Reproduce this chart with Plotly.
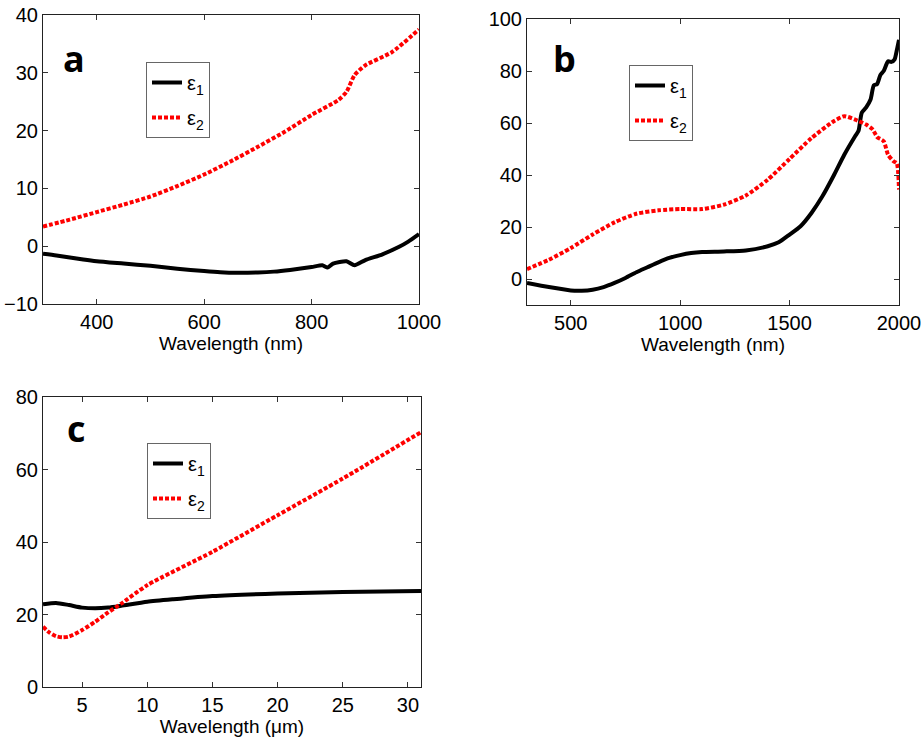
import plotly.graph_objects as go

# ---------- Panel a (nm) ----------
a_x_e1 = [300, 325, 350, 375, 400, 450, 500, 550, 600, 630, 660, 700, 730, 760, 800, 820, 830, 840, 865,
          880, 900, 932, 963, 980, 1000]
a_e1 = [-1.3, -1.6, -1.95, -2.3, -2.6, -3.0, -3.4, -3.9, -4.3, -4.5, -4.6, -4.55, -4.4, -4.1, -3.6, -3.3,
        -3.7, -3.0, -2.6, -3.3, -2.4, -1.4, -0.1, 0.8, 2.1]
a_x_e2 = [300, 350, 400, 450, 500, 550, 600, 650, 700, 750, 800, 850, 865, 880, 900, 950, 1000]
a_e2 = [3.4, 4.6, 5.9, 7.2, 8.6, 10.4, 12.4, 14.7, 17.2, 19.8, 22.7, 25.3, 26.7, 29.6, 31.3, 33.6, 37.5]

# ---------- Panel b (nm) ----------
b_x_e1 = [300, 400, 500, 550, 600, 650, 700, 750, 800, 850, 900, 950, 1000, 1050, 1100, 1200, 1300, 1400,
          1450, 1500, 1550, 1600, 1650, 1700, 1750, 1800, 1815, 1830, 1850, 1870, 1885, 1900, 1915, 1930,
          1950, 1965, 1980, 1990, 2000]
b_e1 = [-1.5, -3.1, -4.4, -4.5, -4.1, -3.1, -1.5, 0.4, 2.6, 4.5, 6.4, 8.1, 9.2, 10.0, 10.4, 10.6, 11.0, 12.6,
        14.1, 17.1, 20.3, 25.4, 31.8, 39.5, 47.8, 55.0, 57.0, 64.0, 66.0, 69.0, 74.5, 75.0, 78.5, 80.0,
        83.7, 83.5, 84.5, 88.0, 92.0]
b_x_e2 = [300, 400, 500, 600, 700, 800, 900, 1000, 1100, 1200, 1300, 1400, 1500, 1600, 1700, 1750, 1800,
          1850, 1880, 1900, 1930, 1950, 1975, 1990, 2000]
b_e2 = [3.8, 7.4, 11.9, 17.1, 21.8, 25.1, 26.4, 26.9, 26.9, 28.6, 32.1, 38.2, 46.2, 54.2, 60.6, 62.6, 61.3,
        59.4, 57.5, 54.6, 53.0, 47.8, 45.3, 44.5, 34.4]

# ---------- Panel c (um) ----------
c_x_e1 = [2, 3, 4, 5, 6, 7, 8, 10, 12, 15, 20, 25, 31]
c_e1 = [22.8, 23.2, 22.6, 21.9, 21.7, 21.9, 22.4, 23.5, 24.2, 25.1, 25.8, 26.2, 26.5]
c_x_e2 = [2, 2.5, 3, 3.5, 4, 5, 6, 7, 8, 10, 15, 20, 25, 31]
c_e2 = [16.6, 15.0, 14.0, 13.7, 13.9, 15.7, 18.0, 20.6, 23.0, 28.1, 37.3, 47.4, 57.5, 70.3]

# tick labels
a_xticks = [400, 600, 800, 1000]
a_yticks = [-10, 0, 10, 20, 30, 40]
b_xticks = [500, 1000, 1500, 2000]
b_yticks = [0, 20, 40, 60, 80, 100]
c_xticks = [5, 10, 15, 20, 25, 30]
c_yticks = [0, 20, 40, 60, 80]

E1 = "ε<sub>1</sub>"
E2 = "ε<sub>2</sub>"
FONT = "Liberation Sans, Arial, sans-serif"
BLACK = "#000000"
RED = "#ff0000"

fig = go.Figure()

panels = [
    ("x", "y", "legend", a_x_e1, a_e1, a_x_e2, a_e2),
    ("x2", "y2", "legend2", b_x_e1, b_e1, b_x_e2, b_e2),
    ("x3", "y3", "legend3", c_x_e1, c_e1, c_x_e2, c_e2),
]
for xa, ya, lg, x1, y1, x2, y2 in panels:
    fig.add_trace(go.Scatter(x=x1, y=y1, mode="lines", name=E1, xaxis=xa, yaxis=ya,
                             legend=lg, legendgroup=lg + "1",
                             line=dict(color=BLACK, width=4, shape="spline", smoothing=0.6)))
    fig.add_trace(go.Scatter(x=x2, y=y2, mode="lines", name=E2, xaxis=xa, yaxis=ya,
                             legend=lg, legendgroup=lg + "2",
                             line=dict(color=RED, width=4, dash="4px,2px", shape="spline", smoothing=0.6)))

W, H = 924, 740


def px_x(p):
    return p / W


def px_y(p):
    return 1 - p / H


def axis(dom, rng, ticks, title=None):
    d = dict(domain=dom, range=rng, tickvals=ticks, ticks="inside", ticklen=5,
             tickcolor="#333", showline=True, linecolor="#222", linewidth=1, mirror="allticks",
             showgrid=False, zeroline=False, automargin=False,
             tickfont=dict(size=20, color="black", family=FONT))
    if title:
        d["title"] = dict(text=title, font=dict(size=19, color="black", family=FONT), standoff=0)
    return d


layout = dict(
    width=W, height=H, margin=dict(l=0, r=0, t=0, b=0, autoexpand=False),
    paper_bgcolor="white", plot_bgcolor="white",
    font=dict(family=FONT, color="black"),
    xaxis=axis([px_x(43), px_x(419)], [300, 1000], a_xticks, "Wavelength (nm)"),
    yaxis=axis([px_y(304), px_y(15)], [-10, 40], a_yticks),
    xaxis2=axis([px_x(527), px_x(899)], [300, 2000], b_xticks, "Wavelength (nm)"),
    yaxis2=axis([px_y(305), px_y(19)], [-10, 100], b_yticks),
    xaxis3=axis([px_x(43), px_x(421)], [2, 31], c_xticks, "Wavelength (μm)"),
    yaxis3=axis([px_y(687), px_y(397)], [0, 80], c_yticks),
)
for a in ("xaxis", "xaxis2", "xaxis3"):
    layout[a]["anchor"] = {"xaxis": "y", "xaxis2": "y2", "xaxis3": "y3"}[a]
for a in ("yaxis", "yaxis2", "yaxis3"):
    layout[a]["anchor"] = {"yaxis": "x", "yaxis2": "x2", "yaxis3": "x3"}[a]


def leg(x, y):
    return dict(x=px_x(x), y=px_y(y), xanchor="left", yanchor="top",
                bgcolor="white", bordercolor="#666", borderwidth=1,
                font=dict(size=20, family=FONT, color="black"),
                traceorder="grouped", tracegroupgap=6, itemwidth=30)


layout["legend"] = leg(146, 62)
layout["legend2"] = leg(629, 65)
layout["legend3"] = leg(147, 443)
layout["showlegend"] = True

fig.update_layout(**layout)

labels = [("a", 74, 59), ("b", 564, 59), ("c", 76, 428)]
for t, x, y in labels:
    fig.add_annotation(text=t, x=px_x(x), y=px_y(y), xref="paper", yref="paper",
                       xanchor="center", yanchor="middle", showarrow=False,
                       font=dict(size=36, family="Open Sans, sans-serif", color="black", weight="bold"))

fig.write_html("out.html")
